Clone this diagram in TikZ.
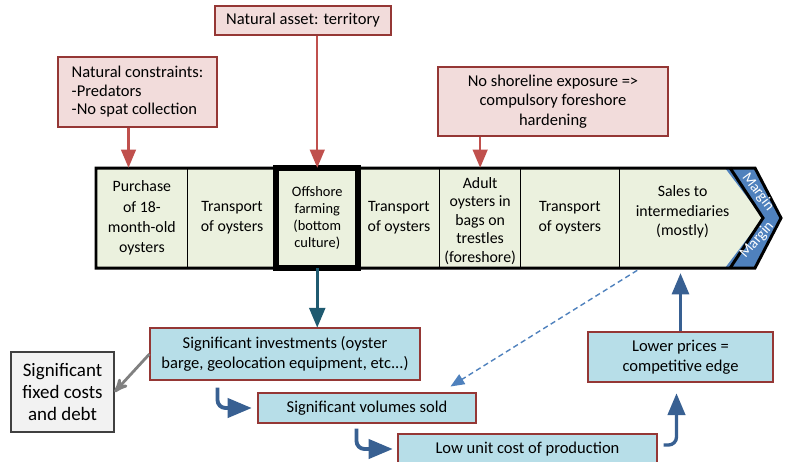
\documentclass[tikz,border=0pt]{standalone}
\usepackage{fontspec}
\setmainfont{Carlito}
\usepackage{tikz}
\usetikzlibrary{arrows,positioning}
\definecolor{pinkfill}{RGB}{242,220,219}
\definecolor{boxborder}{RGB}{149,55,53}
\definecolor{redarrow}{RGB}{192,80,77}
\definecolor{bluefill}{RGB}{183,222,232}
\definecolor{chainfill}{RGB}{235,241,222}
\definecolor{bandblue}{RGB}{79,129,189}
\definecolor{tealarrow}{RGB}{31,90,112}
\definecolor{bendblue}{RGB}{56,96,146}
\definecolor{grayfill}{RGB}{242,242,242}
\newcommand{\px}{0.02cm}
\tikzstyle{pink box}=[draw=boxborder, fill=pinkfill, line width=0.6pt, inner sep=0pt, align=center, font=\fontsize{9.4}{11}\selectfont]
\tikzstyle{blue box}=[draw=boxborder, fill=bluefill, line width=0.6pt, inner sep=0pt, align=center, font=\fontsize{9.4}{11.3}\selectfont]
\tikzstyle{cell}=[minimum height=100*\px, inner sep=0pt, align=center, font=\fontsize{9}{11.5}\selectfont]
\tikzstyle{red arrow}=[-triangle 45, draw=redarrow, line width=1.4pt]
\tikzstyle{bend arrow}=[-triangle 45, draw=bendblue, line width=2.2pt, rounded corners=8*\px]

\begin{document}
\begin{tikzpicture}[x=0.02cm, y=-0.02cm]
  \useasboundingbox (0,0) rectangle (785,461);

  % value chain
  \fill[chainfill] (96,168) -- (755,168) -- (781,218) -- (755,268) -- (96,268) -- cycle;
  \fill[bandblue] (725,168) -- (755,168) -- (781,218) -- (755,268) -- (725,268) -- (763,218) -- cycle;

  \node[cell, minimum width=91*\px, anchor=west] (purchase) at (96,218) {Purchase\\of 18-\\month-old\\oysters};
  \node[cell, minimum width=88*\px] (transA) [right=0pt of purchase] {Transport\\of oysters};
  \node[cell, minimum width=81*\px, font=\fontsize{8.2}{9.7}\selectfont] (farming) [right=0pt of transA] {Offshore\\farming\\(bottom\\culture)};
  \node[cell, minimum width=81*\px] (transB) [right=0pt of farming] {Transport\\of oysters};
  \node[cell, minimum width=80*\px, font=\fontsize{9}{10.6}\selectfont] (adult) [right=0pt of transB] {\\[-1pt]Adult\\oysters in\\bags on\\trestles\\(foreshore)};
  \node[cell, minimum width=98*\px] (transC) [right=0pt of adult] {Transport\\of oysters};
  \node[cell, minimum width=110*\px] (sales) [right=0pt of transC] {};
  \node[cell, minimum height=0pt, font=\fontsize{9}{11}\selectfont] (salestext) at ([xshift=8*\px, yshift=6*\px]sales.center) {Sales to\\intermediaries\\(mostly)};

  \draw[thin] (purchase.north east) -- (purchase.south east);
  \draw[thin] (adult.north west) -- (adult.south west);
  \draw[thin] (adult.north east) -- (adult.south east);
  \draw[thin] (transC.north east) -- (transC.south east);

  \draw[line width=1.7pt] (sales.north east) -- (763,218) -- (sales.south east);
  \draw[line width=1.7pt] (96,168) -- (755,168) -- (781,218) -- (755,268) -- (96,268) -- cycle;
  \draw[line width=3.4pt] (farming.north west) rectangle (farming.south east);

  \node[white, rotate=-53, inner sep=0pt, font=\fontsize{8.5}{9}\selectfont] (marginA) at (758,192) {Margin};
  \node[white, rotate=49, inner sep=0pt, font=\fontsize{8.5}{9}\selectfont] (marginB) at (757,240) {Margin};

  % natural factors
  \node[pink box, minimum width=176*\px, minimum height=29*\px] (asset) at (303,20.5) {Natural asset: territory};
  \node[pink box, minimum width=159*\px, minimum height=70*\px, align=left, font=\fontsize{9.4}{10.5}\selectfont] (constraints) at (137.5,92) {Natural constraints:\\-Predators\\-No spat collection};
  \node[pink box, minimum width=230*\px, minimum height=69*\px] (shore) at (553,101.5) {No shoreline exposure =>\\compulsory foreshore\\hardening};

  \coordinate (redA) at ([xshift=-9*\px]constraints.south);
  \draw[red arrow] (redA) -- (redA |- purchase.north);
  \draw[red arrow] (asset.south -| farming.north) -- (farming.north);
  \draw[red arrow] (shore.south -| adult.north) -- (adult.north);

  % consequences
  \node[blue box, minimum width=270*\px, minimum height=52*\px] (invest) at (285,354) {Significant investments (oyster\\barge, geolocation equipment, etc...)};
  \node[draw=black!75, fill=grayfill, line width=0.6pt, minimum width=103*\px, minimum height=80*\px, inner sep=0pt, align=center, font=\fontsize{10.8}{12.5}\selectfont] (fixed) at (62.5,392) {Significant\\fixed costs\\and debt};
  \node[blue box, minimum width=218*\px, minimum height=30*\px] (volumes) at (367,408) {Significant volumes sold};
  \node[blue box, minimum width=259*\px, minimum height=30*\px] (lowcost) at (527.5,449) {Low unit cost of production};
  \node[blue box, minimum width=185*\px, minimum height=50*\px] (prices) at (680.5,357) {Lower prices =\\competitive edge};

  \draw[-triangle 45, draw=tealarrow, line width=1.6pt] (farming.south) -- (farming.south |- invest.north);
  \draw[->, >=stealth', draw=gray, line width=1.6pt] (invest.west) -- (fixed.east);

  \coordinate (bendA) at ([xshift=68*\px, yshift=-7*\px]invest.south west);
  \coordinate (bendAend) at ([xshift=-6*\px]volumes.west);
  \draw[bend arrow] (bendA) |- (bendAend);
  \coordinate (bendB) at ([xshift=99*\px, yshift=-5*\px]volumes.south west);
  \coordinate (bendBend) at ([xshift=-5*\px]lowcost.west);
  \draw[bend arrow] (bendB) |- (bendBend);
  \coordinate (bendC) at ([xshift=6*\px, yshift=4*\px]lowcost.east);
  \coordinate (bendCend) at ([xshift=-4*\px, yshift=-11*\px]prices.south);
  \draw[bend arrow, line width=1.9pt] (bendC) -| (bendCend);

  \draw[bend arrow, line width=1.8pt, shorten >=5*\px] (prices.north) -- (prices.north |- sales.south);

  \coordinate (dashA) at ([xshift=18*\px, yshift=-2*\px]sales.south west);
  \coordinate (dashB) at ([xshift=-26*\px, yshift=6*\px]volumes.north east);
  \draw[-triangle 45, draw=bandblue, line width=0.8pt, dash pattern=on 3pt off 2pt] (dashA) -- (dashB);

\end{tikzpicture}
\end{document}
